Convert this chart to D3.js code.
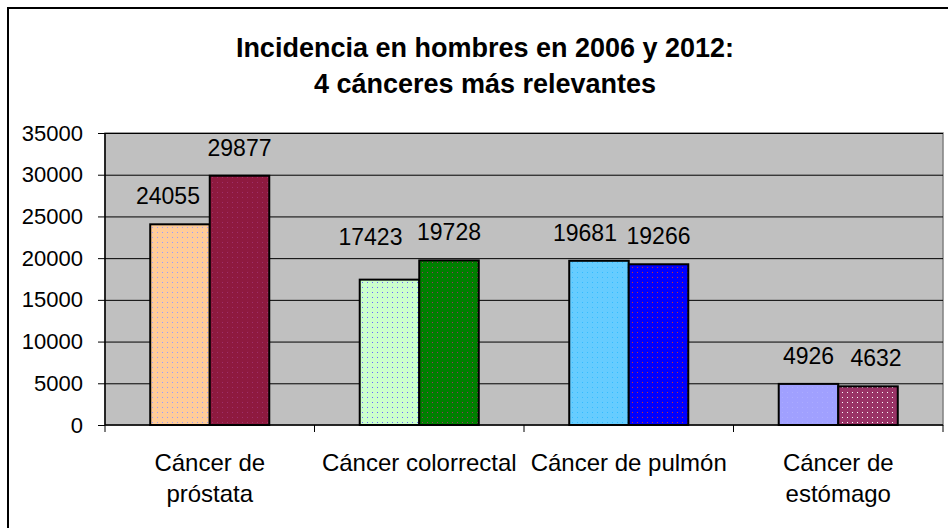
<!DOCTYPE html>
<html>
<head>
<meta charset="utf-8">
<script src="https://cdn.jsdelivr.net/npm/d3@7"></script>
<style>
  body { margin: 0; background: #fff; }
  text { font-family: "Liberation Sans", Arial, sans-serif; fill: #000; }
</style>
</head>
<body>
<script>
// data
let categories = [["Cáncer de", "próstata"], ["Cáncer colorrectal"], ["Cáncer de pulmón"], ["Cáncer de", "estómago"]];
let series = ["2006", "2012"];
let values2006 = [24055, 17423, 19681, 4926];
let values2012 = [29877, 19728, 19266, 4632];
let yTicks = [0, 5000, 10000, 15000, 20000, 25000, 30000, 35000];
let titleLines = ["Incidencia en hombres en 2006 y 2012:", "4 cánceres más relevantes"];

// base colour + dot colour for each bar (category x series)
let barStyles = [
    [["#FFCC99", "#9999FF"], ["#8E1A3F", "#A0306A"]],
    [["#CCFFCC", "#6666FF"], ["#008000", "#993366"]],
    [["#66CCFF", "#33BBFF"], ["#0000FF", "#CC3333"]],
    [["#A0A0FF", "#ABABFF"], ["#993366", "#FFFFFF"]]
];

// hand-moved labels in the original (dx, dy per category, per series)
let labelNudge = [
    [[-12, 0], [0, 0]],
    [[-19, -15], [0, 0]],
    [[-14, 0], [0, 0]],
    [[0, 0], [8, 0]]
];

let width = 948;
let height = 528;

let svg = d3.select("body")
            .append("svg")
            .attr("width", width)
            .attr("height", height);

let plot = {left: 105, right: 943, top: 133, bottom: 425};

// patterns
let defs = svg.append("defs");
barStyles.forEach((pair, i) => {
    pair.forEach((st, j) => {
        let p = defs.append("pattern")
            .attr("id", "pat" + i + "_" + j)
            .attr("patternUnits", "userSpaceOnUse")
            .attr("width", 5)
            .attr("height", 5);
        p.append("rect").attr("width", 5).attr("height", 5).attr("fill", st[0]);
        p.append("rect").attr("x", 2).attr("y", 2).attr("width", 1).attr("height", 1).attr("fill", st[1]);
    });
});

// outer frame
svg.append("rect")
    .attr("x", 8)
    .attr("y", 8)
    .attr("width", 960)
    .attr("height", 540)
    .attr("fill", "#fff")
    .attr("stroke", "#000")
    .attr("stroke-width", 2);

// title
svg.append("g")
    .selectAll("text")
    .data(titleLines)
    .join("text")
    .attr("x", 485)
    .attr("y", (d, i) => 57 + i * 36)
    .attr("text-anchor", "middle")
    .style("font-size", "27px")
    .style("font-weight", "bold")
    .text(d => d);

let x = d3.scaleBand()
    .domain(d3.range(categories.length))
    .range([plot.left, plot.right]);

let xs = d3.scaleBand()
    .domain(series)
    .range([0, x.bandwidth()])
    .paddingOuter(0.76);

let y = d3.scaleLinear()
    .domain([0, 35000])
    .range([plot.bottom, plot.top]);

// plot area
svg.append("rect")
    .attr("x", plot.left)
    .attr("y", plot.top)
    .attr("width", plot.right - plot.left)
    .attr("height", plot.bottom - plot.top)
    .attr("fill", "#C0C0C0")
    .attr("stroke", "#808080")
    .attr("stroke-width", 1.5);

// gridlines
svg.append("g")
    .selectAll("line")
    .data(yTicks.filter(d => d > 0))
    .join("line")
    .attr("x1", plot.left)
    .attr("x2", plot.right)
    .attr("y1", d => y(d) + 0.5)
    .attr("y2", d => y(d) + 0.5)
    .attr("stroke", "#000")
    .attr("stroke-width", 1);

// y axis
let yAxis = svg.append("g")
    .attr("transform", `translate(${plot.left},0)`)
    .call(d3.axisLeft(y).tickValues(yTicks).tickSize(7).tickPadding(15).tickFormat(d3.format("d")));
yAxis.select(".domain").attr("stroke", "#000").attr("stroke-width", 1.5).attr("d", `M0,${plot.top}V${plot.bottom}`);
yAxis.selectAll("text").style("font-size", "22px").style("font-family", "'Liberation Sans', Arial, sans-serif").attr("fill", "#000");

// bars
let data = [];
categories.forEach((c, i) => {
    data.push({cat: i, s: series[0], si: 0, v: values2006[i]});
    data.push({cat: i, s: series[1], si: 1, v: values2012[i]});
});

svg.append("g")
    .selectAll("rect")
    .data(data)
    .join("rect")
    .attr("x", d => x(d.cat) + xs(d.s))
    .attr("y", d => y(d.v))
    .attr("width", xs.bandwidth())
    .attr("height", d => y(0) - y(d.v))
    .attr("fill", d => `url(#pat${d.cat}_${d.si})`)
    .attr("stroke", "#000")
    .attr("stroke-width", 2);

// value labels
svg.append("g")
    .selectAll("text")
    .data(data)
    .join("text")
    .attr("x", d => x(d.cat) + xs(d.s) + xs.bandwidth() / 2 + labelNudge[d.cat][d.si][0])
    .attr("y", d => y(d.v) - 20 + labelNudge[d.cat][d.si][1])
    .attr("text-anchor", "middle")
    .style("font-size", "23px")
    .text(d => d.v);

// x axis
let xAxis = svg.append("g")
    .attr("transform", `translate(0,${plot.bottom})`);
xAxis.append("line")
    .attr("x1", plot.left)
    .attr("x2", plot.right)
    .attr("stroke", "#000")
    .attr("stroke-width", 1.5);
xAxis.selectAll(".tick")
    .data(d3.range(categories.length + 1))
    .join("line")
    .attr("class", "tick")
    .attr("x1", d => plot.left + d * x.step())
    .attr("x2", d => plot.left + d * x.step())
    .attr("y1", 0)
    .attr("y2", 7)
    .attr("stroke", "#000");

svg.append("g")
    .selectAll("text")
    .data(categories)
    .join("text")
    .attr("x", (d, i) => x(i) + x.bandwidth() / 2)
    .attr("y", 471)
    .attr("text-anchor", "middle")
    .style("font-size", "24px")
    .selectAll("tspan")
    .data(d => d)
    .join("tspan")
    .attr("x", function() { return d3.select(this.parentNode).attr("x"); })
    .attr("dy", (d, i) => i === 0 ? 0 : 31)
    .text(d => d);
</script>
</body>
</html>
